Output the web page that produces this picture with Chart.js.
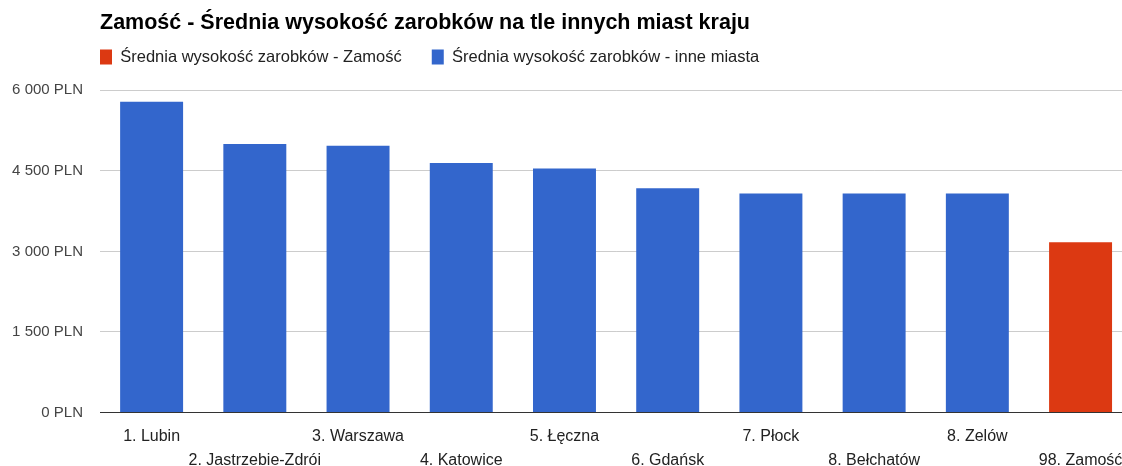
<!DOCTYPE html>
<html>
<head>
<meta charset="utf-8">
<script src="https://cdn.jsdelivr.net/npm/chart.js@4.4.1/dist/chart.umd.min.js"></script>
<style>
  html, body { margin: 0; padding: 0; background: #ffffff; overflow: hidden; width: 1122px; height: 466px; }
  canvas { display: block; }
</style>
</head>
<body>
<canvas id="chart" width="1135" height="466"></canvas>
<script>
const chartTitle = 'Zamość - Średnia wysokość zarobków na tle innych miast kraju';
const seriesNames = ['Średnia wysokość zarobków - Zamość', 'Średnia wysokość zarobków - inne miasta'];
const cities = ['1. Lubin', '2. Jastrzebie-Zdrói', '3. Warszawa', '4. Katowice', '5. Łęczna',
                '6. Gdańsk', '7. Płock', '8. Bełchatów', '8. Zelów', '98. Zamość'];
const salaries = [5785, 5000, 4968, 4645, 4545, 4175, 4080, 4080, 4080, 3170];
const homeCity = '98. Zamość';
const yTicks = [0, 1500, 3000, 4500, 6000];
const seriesColors = ['#dc3912', '#3366cc'];

const FONT = '"Liberation Sans", Arial, sans-serif';

const homeData = cities.map((c, i) => c === homeCity ? salaries[i] : null);
const otherData = cities.map((c, i) => c === homeCity ? null : salaries[i]);

function fmtPLN(v) {
  return String(v).replace(/\B(?=(\d{3})+(?!\d))/g, ' ') + ' PLN';
}

// Align the legend's first box with the left edge of the plot area
const legendAlign = {
  id: 'legendAlign',
  afterLayout(chart) {
    const lg = chart.legend;
    if (lg) {
      const pad = lg.options.labels.padding;
      lg.left = chart.chartArea.left - pad;
    }
  }
};

new Chart(document.getElementById('chart'), {
  type: 'bar',
  data: {
    labels: cities,
    datasets: [
      { label: seriesNames[0], data: homeData, backgroundColor: seriesColors[0], borderWidth: 0, grouped: false },
      { label: seriesNames[1], data: otherData, backgroundColor: seriesColors[1], borderWidth: 0, grouped: false }
    ]
  },
  plugins: [legendAlign],
  options: {
    responsive: false,
    animation: false,
    barPercentage: 0.61,
    categoryPercentage: 1.0,
    layout: { padding: { left: 0, right: 1, top: 0, bottom: 0 } },
    plugins: {
      tooltip: { enabled: false },
      title: {
        display: true,
        text: chartTitle,
        align: 'start',
        fullSize: false,
        color: '#000000',
        font: { family: FONT, size: 21.5, weight: 'bold', lineHeight: 1.2 },
        padding: { top: 10, bottom: -17 }
      },
      legend: {
        display: true,
        position: 'top',
        align: 'start',
        fullSize: true,
        labels: {
          boxWidth: 12,
          boxHeight: 15,
          padding: 30,
          color: '#222222',
          font: { family: FONT, size: 16.5 }
        }
      },
      subtitle: {
        display: true,
        text: '',
        position: 'top',
        weight: 500,
        fullSize: true,
        font: { family: FONT, size: 15, lineHeight: 1 },
        padding: 0
      }
    },
    scales: {
      x: {
        grid: { display: false, drawTicks: false },
        border: { display: true, color: '#333333', width: 1 },
        afterFit: (s) => { s.height = 53.5; },
        ticks: {
          autoSkip: false,
          maxRotation: 0,
          minRotation: 0,
          padding: 12.5,
          color: '#222222',
          font: { family: FONT, size: 16, lineHeight: 1.5 },
          callback: function (value, index) {
            const lbl = this.getLabelForValue(value);
            return index % 2 === 0 ? lbl : ['', lbl];
          }
        }
      },
      y: {
        min: yTicks[0],
        max: yTicks[yTicks.length - 1],
        afterFit: (s) => { s.width = 100; },
        afterBuildTicks: (s) => { s.ticks = yTicks.map(v => ({ value: v })); },
        border: { display: false },
        grid: {
          drawTicks: false,
          color: (ctx) => (ctx.tick && ctx.tick.value === 0) ? '#333333' : '#cccccc',
          lineWidth: 1
        },
        ticks: {
          padding: 17,
          color: '#444444',
          font: { family: FONT, size: 15 },
          callback: (v) => fmtPLN(v)
        }
      }
    }
  }
});
</script>
</body>
</html>
